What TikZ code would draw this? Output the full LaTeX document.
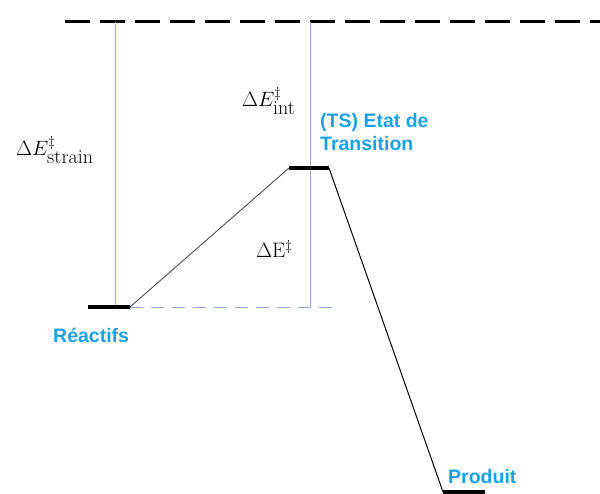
\documentclass[tikz,border=0pt]{standalone}
\usepackage{fontspec}
\setsansfont{Liberation Sans}
\definecolor{lblue}{HTML}{1AA0E8}
\definecolor{vline}{HTML}{8FABD6}
\newcommand{\subtxt}[1]{\mbox{\fontsize{20}{20}\selectfont #1}}
\begin{document}
\begin{tikzpicture}[x=1pt,y=-1pt,
  level/.style={line width=3.5pt},
  guide/.style={draw=vline,line width=0.9pt},
  lab/.style={font=\sffamily\bfseries\fontsize{19.5}{23}\selectfont,text=lblue,align=left,inner sep=0pt},
  mlab/.style={font=\fontsize{20}{22}\selectfont,inner sep=0pt}]
\useasboundingbox (0,0) rectangle (600,494);
% top dashed line
\coordinate (tl) at (65,22);
\coordinate (tr) at (600,22);
\draw[line width=3pt,dash pattern=on 25pt off 10pt] (tl) -- (tr);
% levels
\coordinate (r1) at (88,307); \coordinate (r2) at (130,307);
\coordinate (t1) at (289,168); \coordinate (t2) at (329,168);
\coordinate (p1) at (443,492); \coordinate (p2) at (485,492);
% guides
\coordinate (g1t) at (115,22); \coordinate (g1b) at (115,307);
\coordinate (g2t) at (310,22); \coordinate (g2b) at (310,307);
\draw[guide] (g1t) -- (g1b);
\draw[guide] (g2t) -- (g2b);
\coordinate (dend) at (338,307);
\draw[guide,dash pattern=on 13pt off 8pt] (r2) -- (dend);
% paths
\draw[draw=black!70,line width=0.9pt] (r2) -- (t1);
\draw[line width=1pt] (t2) -- (p1);
\draw[level] (r1) -- (r2);
\draw[level] (t1) -- (t2);
\draw[level] (p1) -- (p2);
% labels
\node[mlab,anchor=base west] (ls) at (16,156) {$\Delta E^{\ddagger}_{\subtxt{strain}}$};
\node[mlab,anchor=base west] (li) at (242,107) {$\Delta E^{\ddagger}_{\subtxt{int}}$};
\node[mlab,font=\fontsize{21}{23}\selectfont,anchor=base west] (le) at (256,258) {$\Delta\mathrm{E}^{\ddagger}$};
\node[lab,anchor=base west] (ts) at (320,151) {(TS) Etat de\\Transition};
\node[lab,anchor=base west] (re) at (53,343) {Réactifs};
\node[lab,anchor=base west] (pr) at (448,483) {Produit};
\end{tikzpicture}
\end{document}
